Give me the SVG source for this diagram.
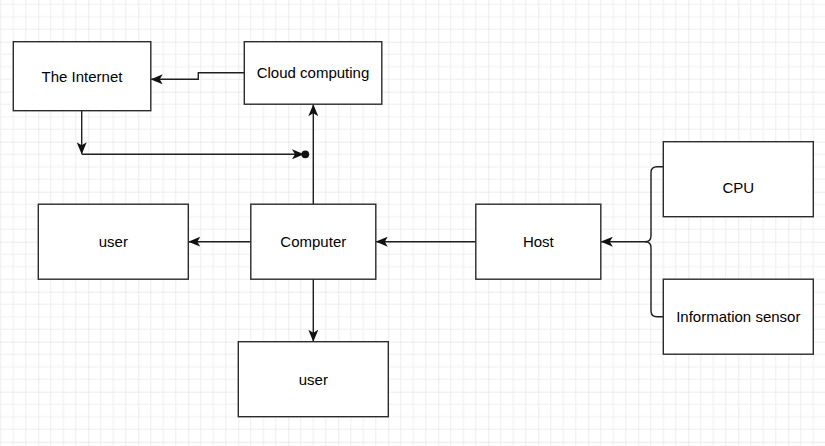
<svg xmlns="http://www.w3.org/2000/svg" width="825" height="446" viewBox="0 0 825 446">
  <style>
    .box { fill: #ffffff; stroke: #2b2b2b; stroke-width: 1.4; }
    .lbl { font-family: "Liberation Sans", Arial, Helvetica, sans-serif; font-size: 15px; fill: #000000; text-anchor: middle; dominant-baseline: central; }
    .edge { fill: none; stroke: #1f1f1f; stroke-width: 1.4; }
    .arr { marker-end: url(#arrow); }
  </style>
  <defs>
    <pattern id="grid" patternUnits="userSpaceOnUse" x="38.3" y="41.7" width="50" height="50">
      <path d="M12.5,0 V50 M25,0 V50 M37.5,0 V50 M0,12.5 H50 M0,25 H50 M0,37.5 H50" stroke="#eeeeee" stroke-width="1" fill="none"/>
      <path d="M0,0 V50 M0,0 H50" stroke="#dadada" stroke-width="1" fill="none"/>
    </pattern>
    <marker id="arrow" viewBox="0 0 12 10" refX="11.5" refY="5" markerWidth="12" markerHeight="10" markerUnits="userSpaceOnUse" orient="auto">
      <path d="M0,0 L12,5 L0,10 L3,5 Z" fill="#111111"/>
    </marker>
  </defs>
  <rect x="0" y="0" width="825" height="446" fill="#ffffff"/>
  <rect x="0" y="0" width="825" height="446" fill="url(#grid)"/>

  <g id="connectors">
    <path class="edge arr" d="M244.3,72.7 H198.3 V79.3 H151.2"/>
    <path class="edge arr" d="M81.7,110.7 V153.8"/>
    <path class="edge arr" d="M81.7,154.3 H303.5"/>
    <circle cx="305.3" cy="154.3" r="3.9" fill="#111111"/>
    <path class="edge arr" d="M313.3,204.2 V104.7"/>
    <path class="edge arr" d="M250.8,241.7 H188.8"/>
    <path class="edge arr" d="M475.8,241.7 H376.3"/>
    <path class="edge arr" d="M313.3,279.2 V341.2"/>
    <path class="edge" d="M663.3,166.7 H657 Q651,166.7 651,172.7 V235.7 Q651,241.7 645,241.7"/>
    <path class="edge" d="M663.3,316.7 H657 Q651,316.7 651,310.7 V247.7 Q651,241.7 645,241.7"/>
    <path class="edge arr" d="M645,241.7 H601.3"/>
  </g>

  <g id="internet">
    <rect class="box" x="13.3" y="41.7" width="137.5" height="69"/>
    <text class="lbl" x="82" y="76.5">The Internet</text>
  </g>
  <g id="cloud">
    <rect class="box" x="244.3" y="41.7" width="137.5" height="62.5"/>
    <text class="lbl" x="313" y="72.7">Cloud computing</text>
  </g>
  <g id="user-left">
    <rect class="box" x="38.3" y="204.2" width="150" height="75"/>
    <text class="lbl" x="113.3" y="241.7">user</text>
  </g>
  <g id="computer">
    <rect class="box" x="250.8" y="204.2" width="125" height="75"/>
    <text class="lbl" x="313.3" y="241.7">Computer</text>
  </g>
  <g id="host">
    <rect class="box" x="475.8" y="204.2" width="125" height="75"/>
    <text class="lbl" x="538.3" y="241.7">Host</text>
  </g>
  <g id="user-bottom">
    <rect class="box" x="238.3" y="341.7" width="150" height="75"/>
    <text class="lbl" x="313.3" y="379.2">user</text>
  </g>
  <g id="cpu">
    <rect class="box" x="663.3" y="141.7" width="150" height="75"/>
    <text class="lbl" x="738.3" y="187">CPU</text>
  </g>
  <g id="sensor">
    <rect class="box" x="663.3" y="279.2" width="150" height="75"/>
    <text class="lbl" x="738.3" y="316.7">Information sensor</text>
  </g>
</svg>
